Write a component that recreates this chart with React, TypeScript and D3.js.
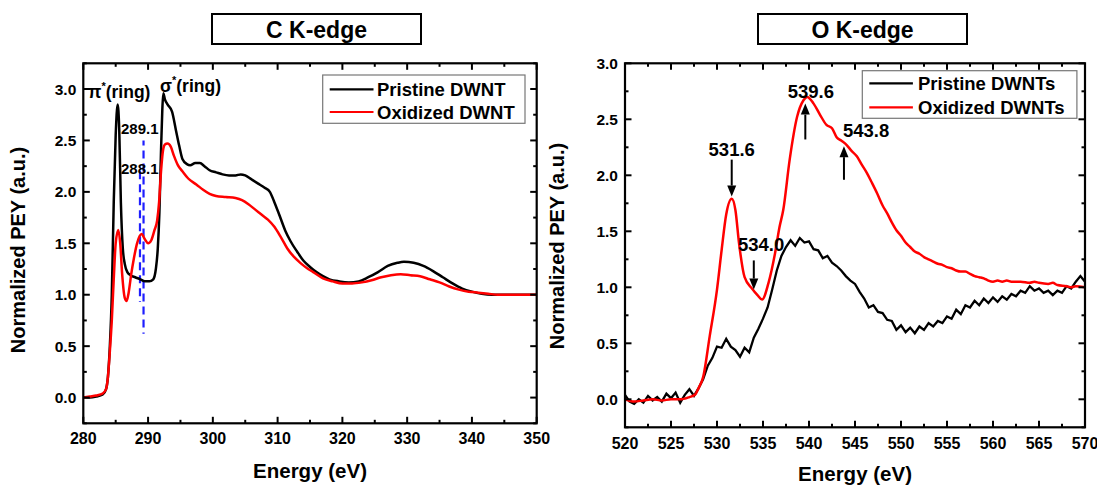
import React from 'react';
import * as d3 from 'd3';

// ---------- C K-edge data ----------
const cPristineE = [280, 281, 282, 283, 283.5, 283.8, 284.1, 284.4, 284.7, 285.0, 285.3, 285.55, 285.8, 286.1, 286.4, 286.8, 287.3, 288, 288.8, 289.5, 290.2, 290.8, 291.2, 291.5, 291.75, 292.0, 292.2, 292.35, 292.6, 293, 293.7, 294.3, 294.8, 295.3, 296, 296.5, 297.3, 298, 298.7, 299.5, 300.5, 301.5, 302.5, 303.5, 304.3, 305, 306, 307, 308, 308.8, 309.5, 310.3, 311.2, 312, 313, 314, 315, 316, 317, 318, 319.5, 321, 322.5, 324, 325.5, 327, 328.5, 329.5, 331, 332.5, 334, 335.5, 337, 338.5, 340, 341.5, 343, 345, 347, 350];
const cPristineY = [0.0, 0.0, 0.01, 0.03, 0.08, 0.2, 0.5, 1.0, 1.9, 2.55, 2.85, 2.6, 1.9, 1.45, 1.3, 1.22, 1.19, 1.17, 1.15, 1.13, 1.13, 1.15, 1.25, 1.45, 1.8, 2.4, 2.8, 2.96, 2.9, 2.85, 2.78, 2.6, 2.45, 2.32, 2.27, 2.26, 2.28, 2.28, 2.25, 2.21, 2.19, 2.17, 2.16, 2.16, 2.17, 2.16, 2.12, 2.08, 2.04, 2.0, 1.9, 1.77, 1.62, 1.52, 1.42, 1.33, 1.27, 1.22, 1.18, 1.15, 1.13, 1.12, 1.13, 1.17, 1.22, 1.28, 1.31, 1.32, 1.31, 1.28, 1.23, 1.17, 1.11, 1.06, 1.03, 1.01, 1.0, 1.0, 1.0, 1.0];

const cOxidizedE = [280, 281, 282, 283, 283.5, 283.8, 284.1, 284.4, 284.7, 285.0, 285.4, 285.7, 286.0, 286.4, 286.7, 287.0, 287.4, 287.8, 288.3, 289.0, 289.5, 290.0, 290.5, 291.0, 291.4, 291.7, 292.0, 292.3, 292.6, 293.0, 293.5, 294.0, 294.6, 295.3, 296.2, 297.5, 298.5, 299.5, 300.5, 302, 303.5, 304.5, 305.5, 306.5, 307.5, 308.5, 309.5, 310.5, 311.5, 312.5, 313.5, 314.5, 315.5, 317, 318.5, 320, 321.5, 323, 324.5, 326, 327.5, 329, 330.5, 332, 333.5, 335, 336.5, 338, 339.5, 341, 342.5, 344, 347, 350];
const cOxidizedY = [0.0, 0.01, 0.02, 0.04, 0.08, 0.2, 0.45, 0.75, 1.15, 1.5, 1.63, 1.5, 1.2, 0.97, 0.94, 1.02, 1.2, 1.35, 1.5, 1.59, 1.54, 1.5, 1.53, 1.63, 1.72, 1.9, 2.2, 2.4, 2.46, 2.47, 2.44, 2.35, 2.26, 2.2, 2.13, 2.07, 2.02, 1.98, 1.96, 1.95, 1.94, 1.92, 1.88, 1.83, 1.78, 1.73, 1.66, 1.56, 1.45, 1.37, 1.31, 1.26, 1.22, 1.16, 1.13, 1.11, 1.11, 1.12, 1.14, 1.17, 1.19, 1.2, 1.19, 1.18, 1.15, 1.12, 1.08, 1.05, 1.03, 1.02, 1.01, 1.0, 1.0, 1.0];

// ---------- O K-edge data ----------
const oPristineE = d3.range(520, 570.001, 0.5);
const oPristineY = [0.04, -0.02, -0.04, 0.0, -0.03, 0.03, -0.01, 0.02, -0.02, 0.05, 0.01, 0.06, -0.03, 0.04, 0.09, 0.03, 0.10, 0.18, 0.30, 0.37, 0.47, 0.46, 0.54, 0.47, 0.44, 0.38, 0.46, 0.42, 0.55, 0.63, 0.72, 0.82, 0.98, 1.15, 1.28, 1.36, 1.42, 1.37, 1.44, 1.40, 1.41, 1.34, 1.33, 1.26, 1.28, 1.22, 1.19, 1.15, 1.10, 1.06, 1.03, 0.96, 0.90, 0.82, 0.84, 0.78, 0.77, 0.71, 0.70, 0.62, 0.66, 0.60, 0.64, 0.59, 0.65, 0.62, 0.68, 0.65, 0.70, 0.68, 0.74, 0.72, 0.80, 0.76, 0.84, 0.82, 0.88, 0.84, 0.90, 0.86, 0.91, 0.87, 0.92, 0.89, 0.94, 0.92, 0.97, 0.95, 1.01, 0.97, 0.99, 0.95, 0.97, 0.93, 0.97, 0.95, 1.01, 0.99, 1.05, 1.10, 1.05];

const oOxidizedE = [520, 521, 522, 523, 524, 525, 526, 527, 527.6, 528, 528.5, 529.2, 530, 530.5, 531, 531.6, 532, 532.4, 533, 533.8, 534.4, 534.9, 535.6, 536.3, 536.8, 537.2, 537.9, 538.7, 539.4, 539.8, 540.5, 541.2, 541.9, 542.5, 543.0, 543.5, 544.1, 544.6, 545.2, 545.7, 546.3, 546.8, 547.4, 548, 548.5, 549, 549.5, 550, 550.5, 551, 551.5, 552, 552.5, 553, 553.5, 554, 554.5, 555, 555.5, 556, 556.5, 557, 557.5, 558, 558.5, 559, 559.5, 560, 560.5, 561, 561.5, 562, 563, 564, 564.5, 565, 566, 566.5, 567, 568, 568.5, 569, 570];
const oOxidizedY = [0.0, -0.02, -0.01, 0.0, -0.01, 0.0, 0.0, 0.02, 0.04, 0.1, 0.2, 0.56, 0.98, 1.33, 1.65, 1.79, 1.69, 1.39, 1.09, 0.99, 0.93, 0.89, 1.04, 1.30, 1.54, 1.69, 2.14, 2.52, 2.67, 2.70, 2.64, 2.54, 2.45, 2.42, 2.34, 2.31, 2.27, 2.22, 2.17, 2.10, 2.02, 1.94, 1.84, 1.73, 1.66, 1.58, 1.51, 1.46, 1.40, 1.36, 1.32, 1.30, 1.27, 1.25, 1.23, 1.21, 1.20, 1.18, 1.17, 1.15, 1.14, 1.14, 1.12, 1.10, 1.09, 1.08, 1.06, 1.05, 1.06, 1.05, 1.06, 1.05, 1.05, 1.04, 1.05, 1.04, 1.03, 1.04, 1.02, 1.01, 1.0, 1.01, 1.0];

// ---------- tick labels ----------
const cXTicks = [280, 290, 300, 310, 320, 330, 340, 350];
const cYTicks = [0.0, 0.5, 1.0, 1.5, 2.0, 2.5, 3.0];
const oXTicks = [520, 525, 530, 535, 540, 545, 550, 555, 560, 565, 570];
const oYTicks = [0.0, 0.5, 1.0, 1.5, 2.0, 2.5, 3.0];

const cPeakLabels = ['289.1', '288.1'];
const oPeakLabels = ['531.6', '534.0', '539.6', '543.8'];

const FONT = "'Liberation Sans', Arial, Helvetica, sans-serif";
const RED = '#ff0000';
const BLUE = '#1e1eff';

type Frame = { left: number; right: number; top: number; bottom: number };

function zip(xs: number[], ys: number[]): [number, number][] {
  return xs.map((v, i) => [v, ys[i]] as [number, number]);
}

function Axes({ frame, x, y, xTicks, xMinor, yTicks, yMinor, tickLabelDy }: any) {
  const maj = 6.5;
  const min = 3.5;
  const els: any[] = [];
  xMinor.forEach((t: number, i: number) => {
    const px = x(t);
    els.push(<line key={'xm' + i} x1={px} x2={px} y1={frame.bottom} y2={frame.bottom - min} stroke="#000" strokeWidth={2} />);
    els.push(<line key={'xmt' + i} x1={px} x2={px} y1={frame.top} y2={frame.top + min} stroke="#000" strokeWidth={2} />);
  });
  xTicks.forEach((t: number, i: number) => {
    const px = x(t);
    els.push(<line key={'x' + i} x1={px} x2={px} y1={frame.bottom} y2={frame.bottom - maj} stroke="#000" strokeWidth={2} />);
    els.push(<line key={'xt' + i} x1={px} x2={px} y1={frame.top} y2={frame.top + maj} stroke="#000" strokeWidth={2} />);
    els.push(
      <text key={'xl' + i} x={px} y={frame.bottom + tickLabelDy} textAnchor="middle" dominantBaseline="central"
        fontFamily={FONT} fontWeight="bold" fontSize={16}>{t}</text>
    );
  });
  yMinor.forEach((t: number, i: number) => {
    const py = y(t);
    els.push(<line key={'ym' + i} x1={frame.left} x2={frame.left + min} y1={py} y2={py} stroke="#000" strokeWidth={2} />);
    els.push(<line key={'ymr' + i} x1={frame.right} x2={frame.right - min} y1={py} y2={py} stroke="#000" strokeWidth={2} />);
  });
  yTicks.forEach((t: number, i: number) => {
    const py = y(t);
    els.push(<line key={'y' + i} x1={frame.left} x2={frame.left + maj} y1={py} y2={py} stroke="#000" strokeWidth={2} />);
    els.push(<line key={'yr' + i} x1={frame.right} x2={frame.right - maj} y1={py} y2={py} stroke="#000" strokeWidth={2} />);
    els.push(
      <text key={'yl' + i} x={frame.left - 7} y={py} textAnchor="end" dominantBaseline="central"
        fontFamily={FONT} fontWeight="bold" fontSize={15.5}>{t.toFixed(1)}</text>
    );
  });
  return (
    <g>
      {els}
      <rect x={frame.left} y={frame.top} width={frame.right - frame.left} height={frame.bottom - frame.top}
        fill="none" stroke="#000" strokeWidth={2.2} />
    </g>
  );
}

function Arrow({ x, y1, y2 }: { x: number; y1: number; y2: number }) {
  const dir = y2 > y1 ? 1 : -1;
  const headLen = 11;
  const hw = 4.5;
  return (
    <g>
      <line x1={x} x2={x} y1={y1} y2={y2 - dir * headLen} stroke="#000" strokeWidth={2} />
      <polygon points={`${x - hw},${y2 - dir * headLen} ${x + hw},${y2 - dir * headLen} ${x},${y2}`} fill="#000" />
    </g>
  );
}

function Legend({ x, y, w, h, rows, lineX1, lineX2, textX }: any) {
  return (
    <g>
      <rect x={x} y={y} width={w} height={h} fill="#fff" stroke="#777" strokeWidth={1.2} />
      {rows.map((r: any, i: number) => (
        <g key={i}>
          <line x1={lineX1} x2={lineX2} y1={r.y} y2={r.y} stroke={r.color} strokeWidth={2.2} />
          <text x={textX} y={r.y} dominantBaseline="central" fontFamily={FONT} fontWeight="bold" fontSize={18.5}>{r.label}</text>
        </g>
      ))}
    </g>
  );
}

function TitleBox({ cx, x, w, label }: any) {
  return (
    <g>
      <rect x={x} y={14} width={w} height={30} fill="#fff" stroke="#000" strokeWidth={2} />
      <text x={cx} y={29.5} textAnchor="middle" dominantBaseline="central" fontFamily={FONT} fontWeight="bold" fontSize={23}>{label}</text>
    </g>
  );
}

export default function App() {
  const lf: Frame = { left: 83.3, right: 536.7, top: 63.3, bottom: 423.3 };
  const lx = d3.scaleLinear().domain([280, 350]).range([lf.left, lf.right]);
  const ly = d3.scaleLinear().domain([-0.25, 3.25]).range([lf.bottom, lf.top]);
  const lLine = d3.line<[number, number]>().x(d => lx(d[0])).y(d => ly(d[1])).curve(d3.curveMonotoneX);

  const rf: Frame = { left: 625, right: 1085, top: 63.3, bottom: 427.3 };
  const rx = d3.scaleLinear().domain([520, 570]).range([rf.left, rf.right]);
  const ry = d3.scaleLinear().domain([-0.25, 3.0]).range([rf.bottom, rf.top]);
  const rLine = d3.line<[number, number]>().x(d => rx(d[0])).y(d => ry(d[1]));
  const rSmooth = d3.line<[number, number]>().x(d => rx(d[0])).y(d => ry(d[1])).curve(d3.curveMonotoneX);

  const cXMinor = d3.range(285, 350, 10);
  const cYMinor = d3.range(-0.25, 3.3, 0.5);
  const oXMinor = d3.range(522.5, 570, 5);
  const oYMinor = d3.range(-0.25, 3.0, 0.5);

  return (
    <svg width={1097} height={485} style={{ position: 'absolute', left: 0, top: 0, background: '#fff' }}>
      <rect x={0} y={0} width={1097} height={485} fill="#fff" />

      {/* ================= LEFT: C K-edge ================= */}
      <TitleBox x={212} w={209} cx={316.5} label="C K-edge" />

      <line x1={lx(288.75)} x2={lx(288.75)} y1={ly(2.2)} y2={ly(0.93)} stroke={BLUE} strokeWidth={2.2} strokeDasharray="8,5" />
      <line x1={lx(289.3)} x2={lx(289.3)} y1={ly(2.5)} y2={ly(0.62)} stroke={BLUE} strokeWidth={2.2} strokeDasharray="8,5" strokeDashoffset={3} />

      <path d={lLine(zip(cPristineE, cPristineY)) || ''} fill="none" stroke="#000" strokeWidth={2.5} />
      <path d={lLine(zip(cOxidizedE, cOxidizedY)) || ''} fill="none" stroke={RED} strokeWidth={2.5} />

      <Axes frame={lf} x={lx} y={ly} xTicks={cXTicks} xMinor={cXMinor} yTicks={cYTicks} yMinor={cYMinor} tickLabelDy={15.5} />

      <text x={88} y={91.7} dominantBaseline="central" fontFamily={FONT} fontWeight="bold" fontSize={17.5}>
        π<tspan dy={-6} fontSize={11}>*</tspan><tspan dy={6}>(ring)</tspan>
      </text>
      <text x={160} y={86} dominantBaseline="central" fontFamily={FONT} fontWeight="bold" fontSize={17.5}>
        σ<tspan dy={-6} fontSize={11}>*</tspan><tspan dy={6}>(ring)</tspan>
      </text>
      <text x={121} y={128.3} dominantBaseline="central" fontFamily={FONT} fontWeight="bold" fontSize={15}>{cPeakLabels[0]}</text>
      <text x={121} y={168.3} dominantBaseline="central" fontFamily={FONT} fontWeight="bold" fontSize={15}>{cPeakLabels[1]}</text>

      <Legend x={322.7} y={75} w={202.3} h={48.3} lineX1={329.7} lineX2={373.5} textX={377}
        rows={[{ y: 89.3, color: '#000', label: 'Pristine DWNT' }, { y: 112, color: RED, label: 'Oxidized DWNT' }]} />

      <text x={(lf.left + lf.right) / 2} y={470} textAnchor="middle" dominantBaseline="central" fontFamily={FONT} fontWeight="bold" fontSize={20.5}>Energy (eV)</text>
      <text transform="translate(18,250) rotate(-90)" textAnchor="middle" dominantBaseline="central" fontFamily={FONT} fontWeight="bold" fontSize={20}>Normalized PEY (a.u.)</text>

      {/* ================= RIGHT: O K-edge ================= */}
      <TitleBox x={758} w={209} cx={862.5} label="O K-edge" />

      <path d={rLine(zip(oPristineE, oPristineY)) || ''} fill="none" stroke="#000" strokeWidth={2.3} />
      <path d={rSmooth(zip(oOxidizedE, oOxidizedY)) || ''} fill="none" stroke={RED} strokeWidth={2.5} />

      <Axes frame={rf} x={rx} y={ry} xTicks={oXTicks} xMinor={oXMinor} yTicks={oYTicks} yMinor={oYMinor} tickLabelDy={16} />

      <text x={rx(531.6)} y={ry(2.226)} textAnchor="middle" dominantBaseline="central" fontFamily={FONT} fontWeight="bold" fontSize={18.5}>{oPeakLabels[0]}</text>
      <Arrow x={rx(531.6)} y1={ry(2.14)} y2={ry(1.81)} />
      <text x={rx(534.8)} y={ry(1.379)} textAnchor="middle" dominantBaseline="central" fontFamily={FONT} fontWeight="bold" fontSize={18.5}>{oPeakLabels[1]}</text>
      <Arrow x={rx(534.0)} y1={ry(1.24)} y2={ry(0.98)} />
      <text x={rx(540.2)} y={ry(2.746)} textAnchor="middle" dominantBaseline="central" fontFamily={FONT} fontWeight="bold" fontSize={18.5}>{oPeakLabels[2]}</text>
      <Arrow x={rx(539.6)} y1={ry(2.32)} y2={ry(2.64)} />
      <text x={rx(546.2)} y={ry(2.404)} textAnchor="middle" dominantBaseline="central" fontFamily={FONT} fontWeight="bold" fontSize={18.5}>{oPeakLabels[3]}</text>
      <Arrow x={rx(543.8)} y1={ry(1.96)} y2={ry(2.26)} />

      <Legend x={862.3} y={70.7} w={214.6} h={47.6} lineX1={869.3} lineX2={912.9} textX={918}
        rows={[{ y: 83.3, color: '#000', label: 'Pristine DWNTs' }, { y: 107.3, color: RED, label: 'Oxidized DWNTs' }]} />

      <text x={(rf.left + rf.right) / 2} y={473.3} textAnchor="middle" dominantBaseline="central" fontFamily={FONT} fontWeight="bold" fontSize={20.5}>Energy (eV)</text>
      <text transform="translate(557,246) rotate(-90)" textAnchor="middle" dominantBaseline="central" fontFamily={FONT} fontWeight="bold" fontSize={20}>Normalized PEY (a.u.)</text>
    </svg>
  );
}
